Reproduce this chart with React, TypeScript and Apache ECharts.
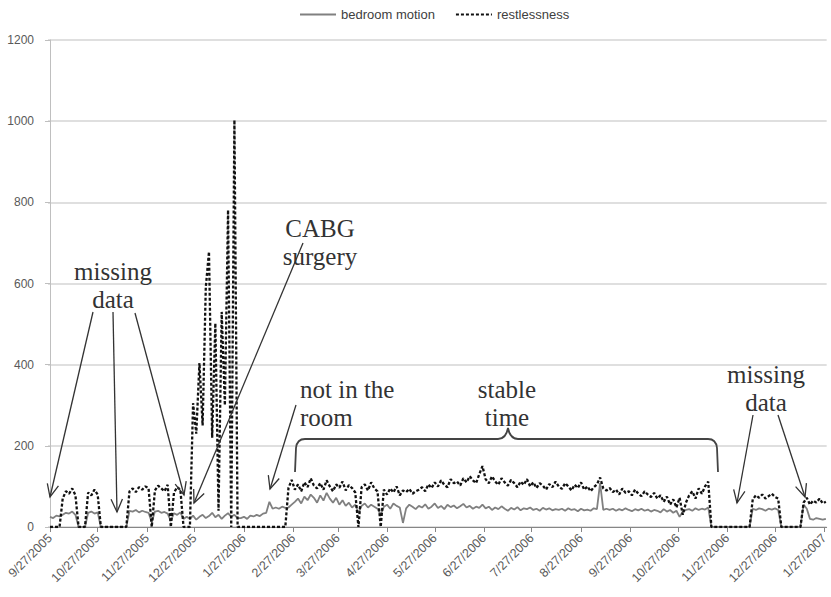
import React, { useEffect, useRef } from "react";
import * as echarts from "echarts";

// ---- data ----
const SERIES_NAMES = ["bedroom motion", "restlessness"];
const START = { y: 2005, m: 9, d: 27 }; // first sample date
const STEP_DAYS = 2; // one sample every 2 days

const tickLabels = [
  "9/27/2005", "10/27/2005", "11/27/2005", "12/27/2005",
  "1/27/2006", "2/27/2006", "3/27/2006", "4/27/2006", "5/27/2006",
  "6/27/2006", "7/27/2006", "8/27/2006", "9/27/2006", "10/27/2006",
  "11/27/2006", "12/27/2006", "1/27/2007",
];

const yTicks = [0, 200, 400, 600, 800, 1000, 1200];

const restlessness = [
  // i0-24
  0, 0, 0, 0, 70, 88, 82, 95, 78, 0, 0, 0, 85, 78, 92, 80, 0, 0, 0, 0, 0, 0, 0, 0, 0,
  // i25-44
  88, 95, 86, 98, 92, 100, 96, 0, 90, 102, 95, 88, 104, 0, 85, 98, 92, 0, 0, 0,
  // i45-59 (post-surgery spikes)
  305, 230, 404, 250, 591, 678, 220, 502, 40, 530, 300, 781, 0, 1003, 0,
  // i60-74 (not in the room)
  0, 0, 0, 0, 0, 0, 0, 0, 0, 0, 0, 0, 0, 0, 0,
  // i75-96
  96, 116, 92, 105, 88, 110, 98, 120, 102, 95, 108, 92, 115, 100, 88, 105, 97, 112, 90, 103, 96, 85,
  // i97-115
  0, 98, 105, 90, 110, 95, 88, 0, 92, 80, 95, 85, 100, 78, 90, 86, 94, 82, 88,
  // i116-136
  92, 98, 88, 105, 96, 110, 100, 115, 104, 98, 118, 108, 112, 102, 120, 110, 125, 115, 108, 130, 150,
  // i137-160
  118, 108, 125, 112, 104, 120, 110, 102, 116, 108, 98, 112, 104, 118, 100, 110, 96, 108, 102, 92, 106, 98, 112, 100,
  // i161-175
  94, 108, 100, 90, 104, 96, 110, 92, 100, 88, 98, 105, 122, 95, 90,
  // i176-190
  96, 86, 92, 80, 95, 84, 88, 78, 92, 82, 76, 88, 80, 74, 84,
  // i191-207
  70, 78, 62, 75, 55, 68, 48, 72, 30, 60, 78, 88, 70, 95, 82, 100, 112,
  // i208-220 (missing)
  0, 0, 0, 0, 0, 0, 0, 0, 0, 0, 0, 0, 0,
  // i221-229
  68, 78, 72, 80, 70, 76, 82, 74, 70,
  // i230-236 (missing)
  0, 0, 0, 0, 0, 0, 0,
  // i237-244
  60, 72, 55, 65, 60, 70, 58, 62,
];

const bedroomMotion = [
  // i0-24
  25, 22, 28, 26, 30, 35, 33, 38, 30, 0, 0, 0, 35, 38, 33, 36, 0, 0, 0, 0, 0, 0, 0, 0, 0,
  // i25-44
  40, 38, 42, 36, 40, 37, 35, 12, 38, 40, 35, 37, 33, 15, 34, 30, 36, 20, 25, 20,
  // i45-59
  28, 18, 25, 30, 22, 27, 35, 24, 30, 20, 28, 34, 25, 30, 22,
  // i60-74
  22, 25, 20, 28, 26, 30, 27, 33, 35, 62, 45, 48, 45, 50, 47,
  // i75-96
  48, 55, 62, 70, 58, 75, 66, 80, 72, 60, 78, 65, 84, 70, 60, 72, 55, 66, 52, 60, 48, 55,
  // i97-115
  35, 52, 58, 48, 55, 50, 45, 30, 50, 55, 45, 58, 52, 48, 10, 46, 55, 50, 44,
  // i116-136
  52, 48, 56, 45, 50, 58, 47, 52, 44, 55, 49, 53, 46, 51, 57, 48, 52, 45, 50, 47, 55,
  // i137-160
  46, 50, 42, 48, 44, 51, 45, 40, 47, 43, 49, 41, 46, 44, 48, 42, 45, 40, 47, 43, 46, 41, 44, 42,
  // i161-175
  45, 40, 46, 42, 44, 39, 45, 41, 43, 40, 46, 44, 108, 42, 45,
  // i176-190
  42, 45, 40, 44, 41, 46, 42, 39, 44, 41, 45, 40, 43, 38, 42,
  // i191-207
  40, 36, 44, 38, 42, 35, 40, 25, 38, 42, 44, 40, 46, 42, 45, 43, 48,
  // i208-220
  0, 0, 0, 0, 0, 0, 0, 0, 0, 0, 0, 0, 0,
  // i221-229
  45, 42, 46, 44, 40, 45, 43, 46, 42,
  // i230-236
  0, 0, 0, 0, 0, 0, 0,
  // i237-244
  55, 45, 20, 18, 22, 20, 18, 20,
];

// ---- helpers ----
const DAY = 86400000;
const startUTC = Date.UTC(START.y, START.m - 1, START.d);
const dayOffset = (label: string) => {
  const [m, d, y] = label.split("/").map(Number);
  return Math.round((Date.UTC(y, m - 1, d) - startUTC) / DAY);
};
const tickOffsets = tickLabels.map(dayOffset);
const labelByOffset: Record<number, string> = {};
tickLabels.forEach((l, i) => (labelByOffset[tickOffsets[i]] = l));

const toPoints = (arr: number[]) => arr.map((v, i) => [i * STEP_DAYS, v]);

// brace path (annotation)
echarts.graphic.registerShape(
  "brace",
  echarts.graphic.extendPath(
    "M295,472 L296,448 Q297,439 305,439 L498,439 Q506,439 508,428 Q510,439 518,439 L708,439 Q716,439 717,448 L718,472",
    {}
  )
);

const ANN = "#333333";
const SERIF = '"Liberation Serif", "DejaVu Serif", serif';
const SANS = '"Liberation Sans", Arial, sans-serif';

function arrow(x1: number, y1: number, x2: number, y2: number) {
  const a = Math.atan2(y2 - y1, x2 - x1);
  const L = 14;
  const s = 0.42;
  const p1 = [x2 - L * Math.cos(a - s), y2 - L * Math.sin(a - s)];
  const p2 = [x2 - L * Math.cos(a + s), y2 - L * Math.sin(a + s)];
  return [
    { type: "line", z: 100, shape: { x1, y1, x2, y2 }, style: { stroke: ANN, lineWidth: 1.3 } },
    { type: "polyline", z: 100, shape: { points: [p1, [x2, y2], p2] }, style: { stroke: ANN, lineWidth: 1.3, fill: null } },
  ];
}

// two-line annotation; (x, y) is the centre of the first line
function label(text: string, x: number, y: number, align = "center") {
  return {
    type: "text",
    z: 100,
    x,
    y: y - 14,
    style: {
      text,
      fill: ANN,
      fontFamily: SERIF,
      fontSize: 25,
      lineHeight: 28,
      align,
      verticalAlign: "top",
    },
  };
}

export default function App() {
  const ref = useRef<HTMLDivElement>(null);

  useEffect(() => {
    if (!ref.current) return;
    const chart = echarts.init(ref.current, undefined, { renderer: "svg" });

    const option = {
      animation: false,
      backgroundColor: "#ffffff",
      legend: {
        top: 3,
        left: 294,
        itemWidth: 36,
        itemHeight: 12,
        itemGap: 20,
        itemStyle: { opacity: 0 },
        textStyle: { fontFamily: SANS, fontSize: 13, color: "#404040" },
        data: SERIES_NAMES,
      },
      grid: { left: 48, right: 0, top: 40, bottom: 70 },
      xAxis: {
        type: "value",
        min: -1.25,
        max: 488.5,
        axisLine: { show: true, lineStyle: { color: "#868686", width: 1 } },
        axisTick: { show: true, customValues: tickOffsets, length: 5, lineStyle: { color: "#868686" } },
        axisLabel: {
          customValues: tickOffsets,
          rotate: 45,
          margin: 9,
          fontFamily: SANS,
          fontSize: 12.5,
          color: "#595959",
          formatter: (v: number) => labelByOffset[Math.round(v)] ?? "",
        },
        splitLine: { show: false },
      },
      yAxis: {
        type: "value",
        min: yTicks[0],
        max: yTicks[yTicks.length - 1],
        interval: 200,
        axisLine: { show: true, lineStyle: { color: "#bfbfbf" } },
        axisTick: { show: true, length: 5, lineStyle: { color: "#bfbfbf" } },
        axisLabel: {
          margin: 14,
          fontFamily: SANS,
          fontSize: 12,
          color: "#595959",
          formatter: (v: number) => String(v),
        },
        splitLine: { show: true, lineStyle: { color: "#d4d4d4", width: 1.5 } },
      },
      series: [
        {
          name: SERIES_NAMES[0],
          type: "line",
          data: toPoints(bedroomMotion),
          symbol: "none",
          z: 2,
          lineStyle: { color: "#808080", width: 1.8 },
          itemStyle: { color: "#808080" },
        },
        {
          name: SERIES_NAMES[1],
          type: "line",
          data: toPoints(restlessness),
          symbol: "none",
          z: 3,
          lineStyle: { color: "#111111", width: 2.3, type: [3, 2] },
          itemStyle: { color: "#111111" },
        },
      ],
      graphic: {
        elements: [
          label("missing\ndata", 113, 271),
          ...arrow(93, 312, 50, 497),
          ...arrow(113, 312, 117, 512),
          ...arrow(135, 313, 184, 495),
          label("CABG\nsurgery", 320, 228),
          ...arrow(303, 243, 194, 503),
          label("not in the\nroom", 300, 389, "left"),
          ...arrow(296, 405, 270, 489),
          label("stable\ntime", 507, 389),
          {
            type: "brace",
            z: 100,
            x: 0,
            y: 0,
            style: { stroke: "#444444", lineWidth: 1.8, fill: null },
          },
          label("missing\ndata", 766, 374),
          ...arrow(753, 415, 737, 503),
          ...arrow(778, 415, 805, 497),
        ],
      },
    };

    chart.setOption(option as any);
    return () => chart.dispose();
  }, []);

  return (
    <div
      ref={ref}
      style={{ position: "fixed", left: 0, top: 0, width: 831, height: 597, background: "#fff" }}
    />
  );
}
